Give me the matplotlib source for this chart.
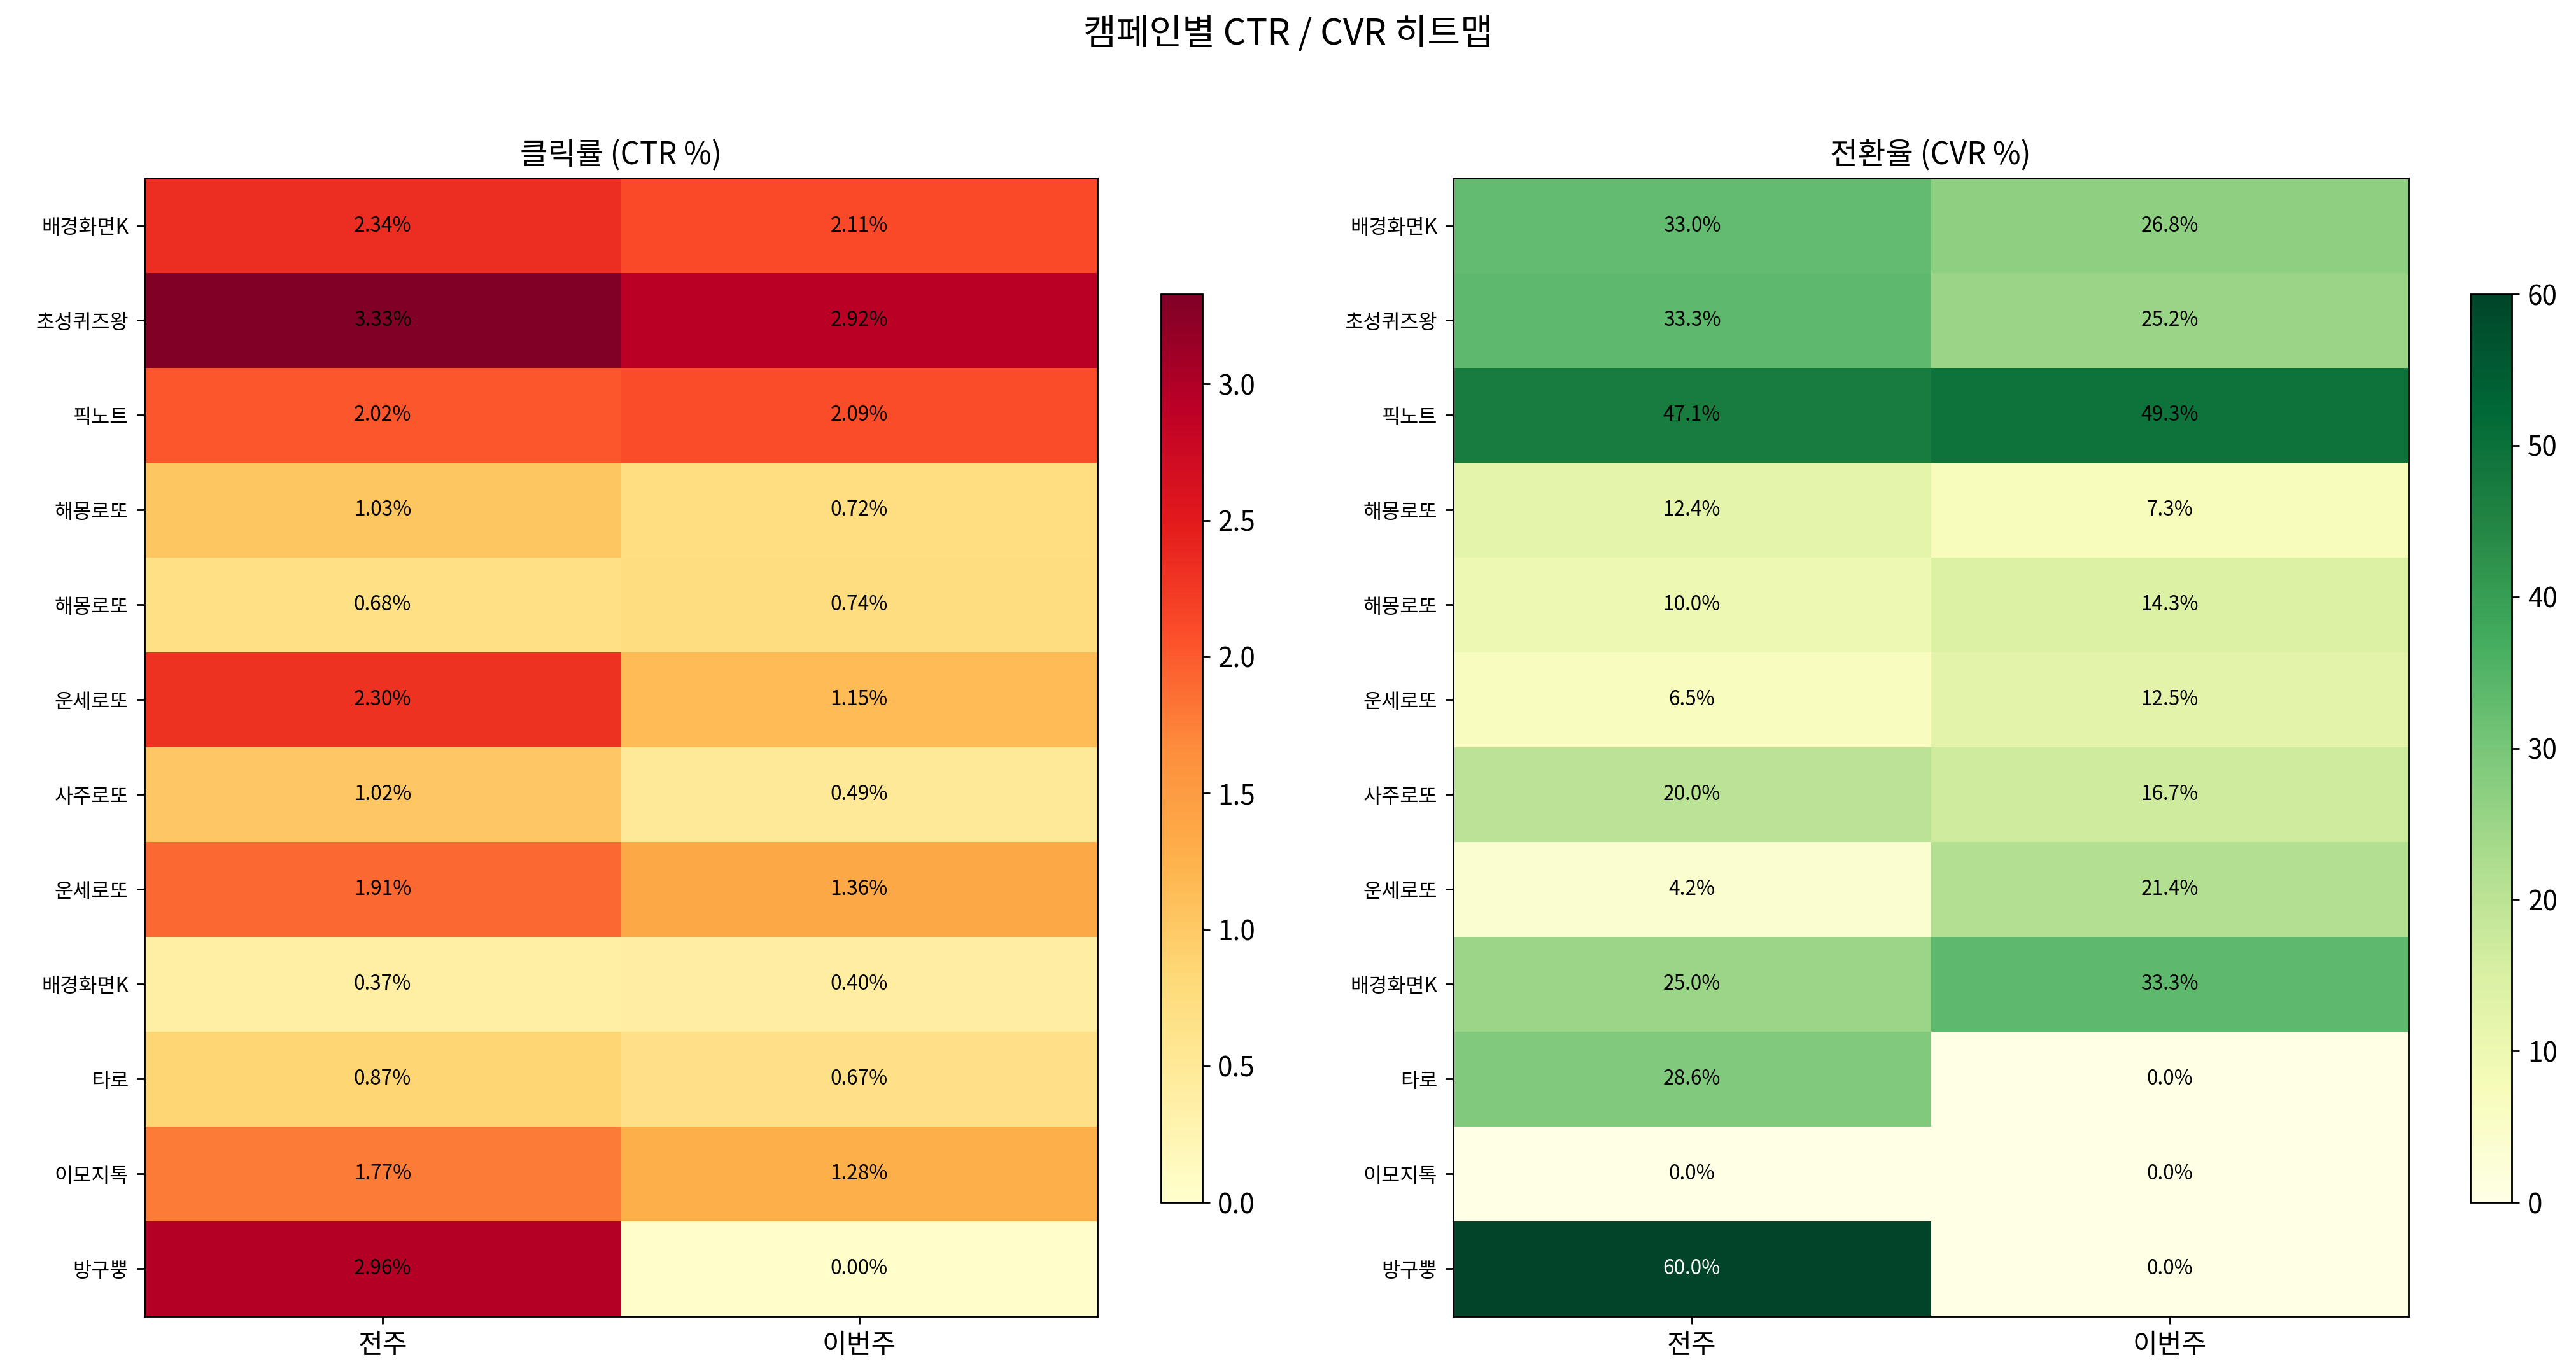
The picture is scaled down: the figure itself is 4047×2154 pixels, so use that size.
import numpy as np
import matplotlib
matplotlib.use("Agg")
import matplotlib.pyplot as plt

plt.rcParams['font.family'] = ['Noto Sans CJK KR', 'DejaVu Sans']

campaigns = ['배경화면K', '초성퀴즈왕', '픽노트', '해몽로또', '해몽로또', '운세로또',
             '사주로또', '운세로또', '배경화면K', '타로', '이모지톡', '방구뿡']
weeks = ['전주', '이번주']

ctr_prev = [2.34, 3.33, 2.02, 1.03, 0.68, 2.30, 1.02, 1.91, 0.37, 0.87, 1.77, 2.96]
ctr_curr = [2.11, 2.92, 2.09, 0.72, 0.74, 1.15, 0.49, 1.36, 0.40, 0.67, 1.28, 0.00]
cvr_prev = [33.0, 33.3, 47.1, 12.4, 10.0, 6.5, 20.0, 4.2, 25.0, 28.6, 0.0, 60.0]
cvr_curr = [26.8, 25.2, 49.3, 7.3, 14.3, 12.5, 16.7, 21.4, 33.3, 0.0, 0.0, 0.0]

ctr = np.column_stack([ctr_prev, ctr_curr])
cvr = np.column_stack([cvr_prev, cvr_curr])

dpi = 253
fig = plt.figure(figsize=(4047 / dpi, 2154 / dpi), dpi=dpi)
fig.suptitle('캠페인별 CTR / CVR 히트맵', fontsize=16, y=0.988)

panels = [
    (ctr, 'YlOrRd', '클릭률 (CTR %)', '{:.2f}%', [0.056, 0.040, 0.370, 0.830], [0.4506, 0.123, 0.0161, 0.6625]),
    (cvr, 'YlGn', '전환율 (CVR %)', '{:.1f}%', [0.564, 0.040, 0.371, 0.830], [0.959, 0.123, 0.0161, 0.6625]),
]

for data, cmap, title, fmt, pos, cpos in panels:
    ax = fig.add_axes(pos)
    im = ax.imshow(data, cmap=cmap, aspect='auto', vmin=0, vmax=data.max())
    ax.set_title(title, fontsize=13.5)
    ax.set_xticks(range(len(weeks)))
    ax.set_xticklabels(weeks, fontsize=12)
    ax.set_yticks(range(len(campaigns)))
    ax.set_yticklabels(campaigns, fontsize=9)
    for i in range(data.shape[0]):
        for j in range(data.shape[1]):
            v = data[i, j]
            color = 'white' if v > 0.9 * data.max() and cmap == 'YlGn' else 'black'
            ax.text(j, i, fmt.format(v), ha='center', va='center', fontsize=9, color=color)
    cax = fig.add_axes(cpos)
    cb = fig.colorbar(im, cax=cax)
    cb.ax.tick_params(labelsize=12)

plt.savefig('out.png', dpi=dpi)
